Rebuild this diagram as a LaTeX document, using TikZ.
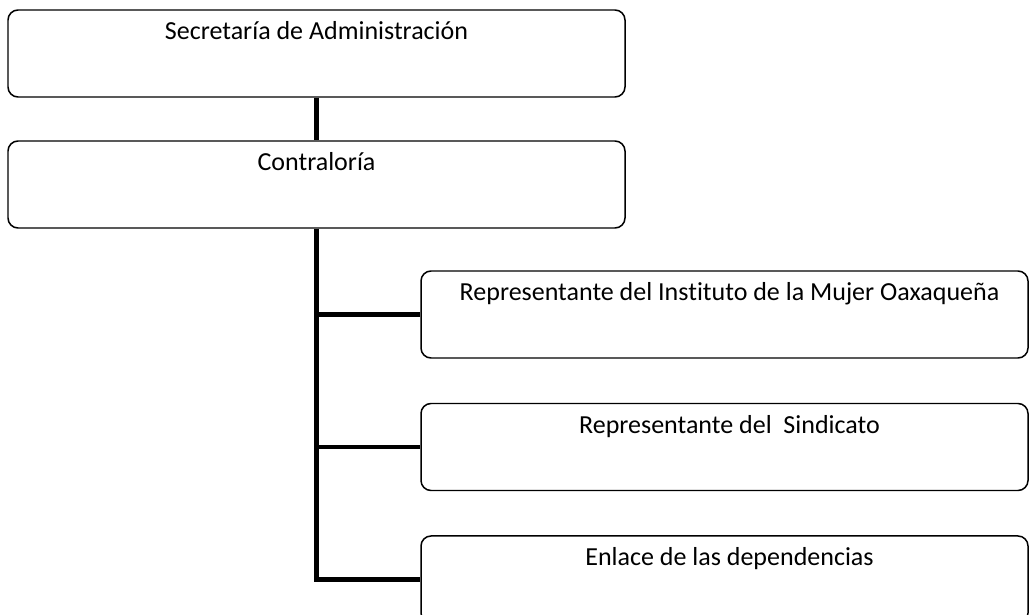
\documentclass[tikz,border=0pt]{standalone}
\usepackage{fontspec}
\setmainfont{Carlito}[Ligatures=CommonOff]
\usetikzlibrary{positioning}
\tikzset{
  box/.style={
    draw, line width=0.85pt, rounded corners=0.2cm,
    minimum height=1.74cm, inner sep=0pt
  },
  wide/.style={box, minimum width=12.34cm},
  side/.style={box, minimum width=12.14cm},
  link/.style={line width=2.8pt},
  head/.style={label={[anchor=base,yshift=-0.61cm]north:#1}},
  sidehead/.style={label={[anchor=base,yshift=-0.61cm,xshift=0.1cm]north:#1}}
}

\begin{document}
\begin{tikzpicture}[font=\fontsize{14.8}{17}\selectfont]
  \clip (0,0) rectangle (20.58,-12.3);

  \node[wide,head={Secretaría de Administración}] (secr) at (6.33,-1.07) {};
  \node[wide,head={Contraloría}] (contr) at (6.33,-3.69) {};

  \node[side,sidehead={Representante del Instituto de la Mujer Oaxaqueña}] (mujer) at (14.49,-6.29) {};
  \node[side,sidehead={Representante del\ \ Sindicato},below=0.88cm of mujer] (sind) {};
  \node[side,sidehead={Enlace de las dependencias},below=0.88cm of sind] (enlace) {};

  \draw[link] (secr) -- (contr);
  % trunk down to the last box
  \draw[link] (contr.south) |- (enlace.west);
  \foreach \n in {mujer,sind}
    \draw[link] (contr.south |- \n.west) -- (\n.west);
\end{tikzpicture}
\end{document}
